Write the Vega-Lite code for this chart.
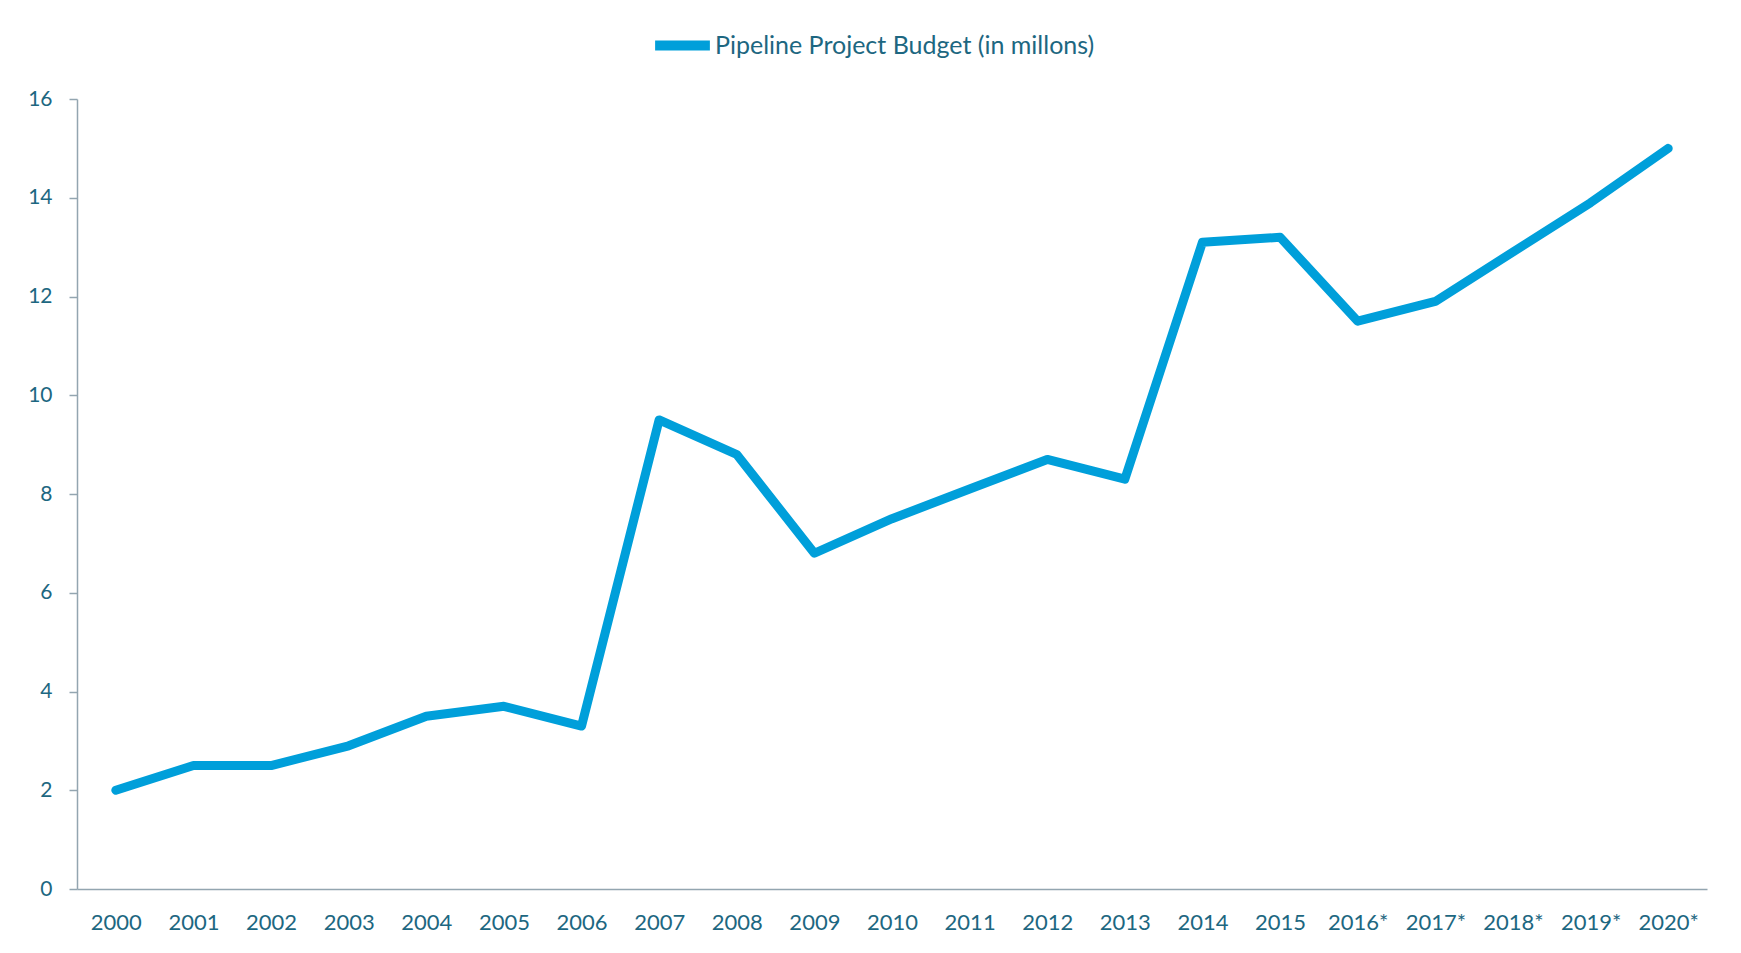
{
  "$schema": "https://vega.github.io/schema/vega-lite/v6.json",
  "autosize": "none",
  "width": 1630,
  "height": 790,
  "padding": {"left": 77, "top": 99, "right": 34, "bottom": 64},
  "background": "white",
  "config": {
    "view": {"stroke": null},
    "font": "Lato",
    "axis": {"labelFont": "Lato", "labelColor": "#1d6781", "domainColor": "#93a5b0", "tickColor": "#93a5b0", "domainWidth": 1.5, "tickWidth": 1.5, "grid": false, "title": null}
  },
  "data": {
    "values": [
      {"year": "2000", "budget": 2.0},
      {"year": "2001", "budget": 2.5},
      {"year": "2002", "budget": 2.5},
      {"year": "2003", "budget": 2.9},
      {"year": "2004", "budget": 3.5},
      {"year": "2005", "budget": 3.7},
      {"year": "2006", "budget": 3.3},
      {"year": "2007", "budget": 9.5},
      {"year": "2008", "budget": 8.8},
      {"year": "2009", "budget": 6.8},
      {"year": "2010", "budget": 7.5},
      {"year": "2011", "budget": 8.1},
      {"year": "2012", "budget": 8.7},
      {"year": "2013", "budget": 8.3},
      {"year": "2014", "budget": 13.1},
      {"year": "2015", "budget": 13.2},
      {"year": "2016*", "budget": 11.5},
      {"year": "2017*", "budget": 11.9},
      {"year": "2018*", "budget": 12.9},
      {"year": "2019*", "budget": 13.9},
      {"year": "2020*", "budget": 15.0}
    ]
  },
  "mark": {"type": "line", "strokeWidth": 9, "strokeCap": "round", "strokeJoin": "round"},
  "encoding": {
    "x": {
      "field": "year", "type": "ordinal", "sort": null,
      "scale": {"type": "point", "padding": 0.5},
      "axis": {"labelAngle": 0, "ticks": false, "labelPadding": 23, "labelFontSize": 22}
    },
    "y": {
      "field": "budget", "type": "quantitative",
      "scale": {"domain": [0, 16]},
      "axis": {"values": [0, 2, 4, 6, 8, 10, 12, 14, 16], "tickSize": 8, "labelPadding": 17, "labelFontSize": 21}
    },
    "color": {
      "datum": "Pipeline Project Budget (in millons)",
      "type": "nominal",
      "scale": {"range": ["#009fda"]},
      "legend": {
        "title": null,
        "orient": "none",
        "legendX": 573,
        "legendY": -86,
        "symbolType": "stroke",
        "symbolSize": 3000,
        "symbolStrokeWidth": 10,
        "labelFontSize": 25,
        "labelColor": "#1d6781",
        "labelOffset": 0,
        "labelLimit": 0,
        "labelFont": "Lato"
      }
    }
  }
}
